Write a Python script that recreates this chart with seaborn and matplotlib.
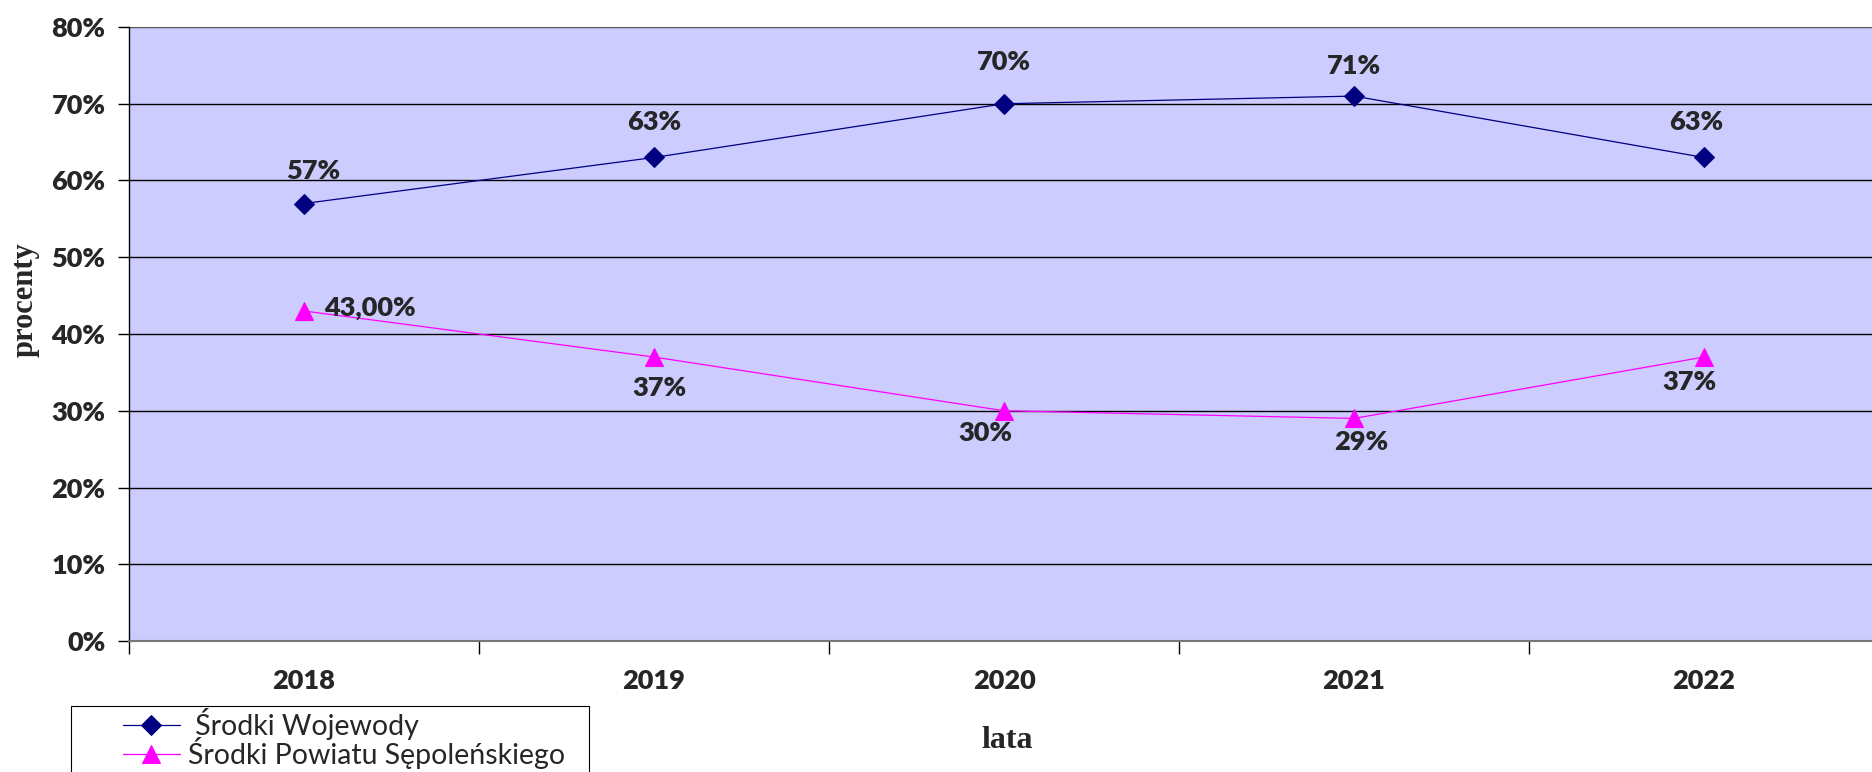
import pandas as pd
import numpy as np
import seaborn as sns
from matplotlib import pyplot as plt
from matplotlib.patches import Rectangle

lata = [2018, 2019, 2020, 2021, 2022]
wojewody = [0.57, 0.63, 0.70, 0.71, 0.63]
powiatu = [0.43, 0.37, 0.30, 0.29, 0.37]
etykiety_woj = ['57%', '63%', '70%', '71%', '63%']
etykiety_pow = ['43,00%', '37%', '30%', '29%', '37%']
nazwa_woj = ' Środki Wojewody'
nazwa_pow = 'Środki Powiatu Sępoleńskiego'
y_ticks = [0, 0.1, 0.2, 0.3, 0.4, 0.5, 0.6, 0.7, 0.8]

df = pd.DataFrame({'rok': lata * 2,
                   'wartosc': wojewody + powiatu,
                   'seria': [nazwa_woj] * 5 + [nazwa_pow] * 5})

sns.set_style('white')
lab_font = ['Lato', 'DejaVu Sans']
plt.rcParams['font.family'] = lab_font

W, H = 1872, 772
fig = plt.figure(figsize=(W / 100, H / 100), dpi=100)
ax = fig.add_axes([129 / W, 131 / H, 1750 / W, 614 / H])
ax.set_facecolor('#CCCCFF')

sns.lineplot(data=df[df.seria == nazwa_woj], x='rok', y='wartosc', color='#000080',
             marker='D', markersize=10, markeredgecolor='#000080', linewidth=0.9,
             ax=ax, label=nazwa_woj, legend=False)
sns.lineplot(data=df[df.seria == nazwa_pow], x='rok', y='wartosc', color='#FF00FF',
             marker='^', markersize=13, markeredgecolor='#FF00FF', linewidth=0.9,
             ax=ax, label=nazwa_pow, legend=False)

for yv in y_ticks[1:]:
    ax.axhline(yv, color='black' if yv < 0.8 else '#555555', lw=1, zorder=0.5)

ax.set_xlim(2017.5, 2022.5)
ax.set_ylim(0, 0.8)
ax.set_xticks(np.arange(2017.5, 2023, 1))
ax.set_xticklabels([])
ax.set_xticks(lata, minor=True)
ax.set_xticklabels([str(r) for r in lata], minor=True, fontsize=19.5, fontweight='heavy')
ax.tick_params(axis='x', which='major', direction='out', length=9, width=1, color='black', bottom=True)
ax.tick_params(axis='x', which='minor', length=0, pad=20)
ax.set_yticks(y_ticks)
ax.set_yticklabels([f'{int(round(v * 100))}%' for v in y_ticks], fontsize=19.5, fontweight='heavy')
ax.tick_params(axis='y', direction='out', length=8, width=1, color='black', left=True, pad=9)
ax.set_xlabel('')
ax.set_ylabel('')

for s in ['top', 'right']:
    ax.spines[s].set_visible(False)
ax.spines['left'].set_color('black')
ax.spines['left'].set_linewidth(1)
ax.spines['bottom'].set_color('#777777')
ax.spines['bottom'].set_linewidth(1.5)

# label offsets in pixels (dx, dy)
off_woj = [(9, 33), (0, 35), (0, 42), (0, 30), (-8, 35)]
off_pow = [(66, 3), (5, -31), (-19, -22), (7, -24), (-15, -25)]
for x, y, t, (dx, dy) in zip(lata, wojewody, etykiety_woj, off_woj):
    ax.annotate(t, (x, y), xytext=(dx * 0.72, dy * 0.72), textcoords='offset points',
                ha='center', va='center', fontsize=19.5, fontweight='heavy')
for x, y, t, (dx, dy) in zip(lata, powiatu, etykiety_pow, off_pow):
    ax.annotate(t, (x, y), xytext=(dx * 0.72, dy * 0.72), textcoords='offset points',
                ha='center', va='center', fontsize=19.5, fontweight='heavy')

fig.text(1007 / W, 1 - 740 / H, 'lata', ha='center', va='center', fontsize=23,
         fontweight='bold', family='Liberation Serif')
fig.text(25 / W, 1 - 300 / H, 'procenty', ha='center', va='center', rotation=90,
         fontsize=22, fontweight='bold', family='Liberation Serif')

# legend box
fig.patches.append(Rectangle((71 / W, 1 - 800 / H), 518 / W, 94 / H, transform=fig.transFigure,
                             facecolor='white', edgecolor='black', lw=0.8, zorder=1))
h, l = ax.get_legend_handles_labels()
leg = fig.legend(h, l, loc='upper left', bbox_to_anchor=(123 / W, 1 - 708 / H),
                 frameon=False, borderaxespad=0, borderpad=0, handlelength=2.0,
                 handletextpad=0.27, labelspacing=-0.1, prop={'size': 20.5})
leg.set_zorder(2)

fig.savefig('out.png', dpi=100)
